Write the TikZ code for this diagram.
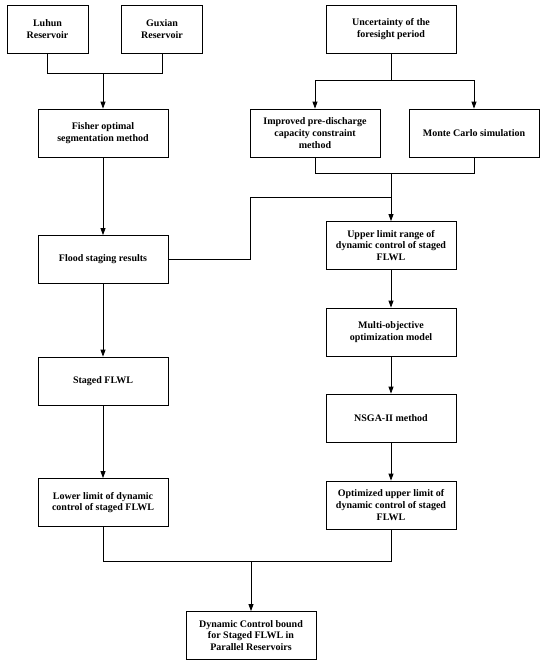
\documentclass[tikz,border=0pt]{standalone}
\usepackage{fontspec}
\setmainfont{Liberation Serif}
\usetikzlibrary{arrows.meta}
\begin{document}
\begin{tikzpicture}[x=1pt,y=-1pt,
  box/.style={draw, line width=0.8pt, minimum width=130pt, minimum height=48pt,
    align=center, inner sep=2pt, font=\bfseries\fontsize{10}{11.7}\selectfont},
  smallbox/.style={box, minimum width=81pt},
  conn/.style={line width=0.8pt},
  arr/.style={conn, -{Triangle[width=5pt,length=7pt]}}]
\useasboundingbox (0,0) rectangle (550,669);
% nodes
\node[smallbox] (luhun) at (47.5,29) {Luhun\\Reservoir};
\node[smallbox] (guxian) at (162,29) {Guxian\\Reservoir};
\node[box] (unc) at (391,29) {Uncertainty of the\\foresight period};
\node[box] (fisher) at (103,133) {Fisher optimal\\segmentation method};
\node[box] (improved) at (315,133) {Improved pre-discharge\\capacity constraint\\method};
\node[box] (monte) at (474,133) {Monte Carlo simulation};
\node[box] (flood) at (103,259.5) {Flood staging results};
\node[box] (upper) at (391,245.5) {Upper limit range of\\dynamic control of staged\\FLWL};
\node[box] (multi) at (391,332) {Multi-objective\\optimization model};
\node[box] (staged) at (103,381) {Staged FLWL};
\node[box] (nsga) at (391,418) {NSGA-II method};
\node[box] (lower) at (103,502.5) {Lower limit of dynamic\\control of staged FLWL};
\node[box] (opt) at (391,505) {Optimized upper limit of\\dynamic control of staged\\FLWL};
\node[box] (final) at (251,635.5) {Dynamic Control bound\\for Staged FLWL in\\Parallel Reservoirs};
% junction coordinates
\coordinate (j1) at (104,73);
\coordinate (j2) at (391,80);
\coordinate (j3) at (391,173);
\coordinate (k) at (250,197);
\coordinate (j4) at (251,561);
% connectors
\draw[conn] (luhun.south) -- (luhun.south |- j1) -- (guxian.south |- j1) -- (guxian.south);
\draw[arr] (fisher.north |- j1) -- (fisher.north);
\draw[conn] (unc.south) -- (unc.south |- j2);
\draw[conn] (improved.north |- j2) -- (monte.north |- j2);
\draw[arr] (improved.north |- j2) -- (improved.north);
\draw[arr] (monte.north |- j2) -- (monte.north);
\draw[conn] (improved.south) -- (improved.south |- j3) -- (monte.south |- j3) -- (monte.south);
\draw[arr] (j3) -- (upper.north);
\draw[conn] (flood.east) -- (flood.east -| k) -- (k) -- (upper.north |- k);
\draw[arr] (fisher) -- (flood);
\draw[arr] (flood) -- (staged);
\draw[arr] (staged) -- (lower);
\draw[arr] (upper) -- (multi);
\draw[arr] (multi) -- (nsga);
\draw[arr] (nsga) -- (opt);
\draw[conn] (lower.south) -- (lower.south |- j4) -- (opt.south |- j4) -- (opt.south);
\draw[arr] (final.north |- j4) -- (final.north);
\end{tikzpicture}
\end{document}
